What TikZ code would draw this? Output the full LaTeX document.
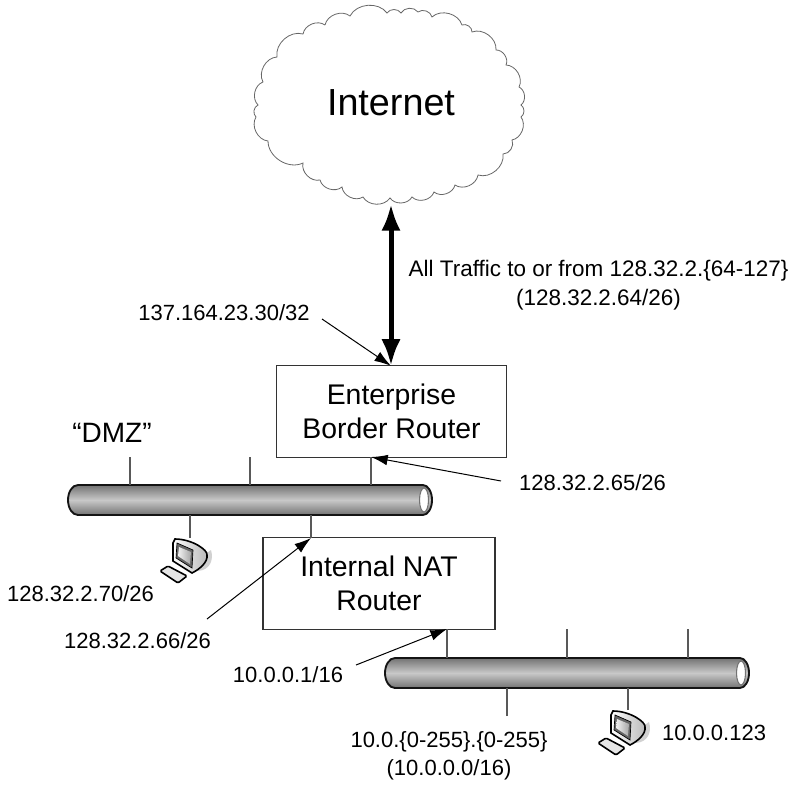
\documentclass[tikz,border=0pt]{standalone}
\usepackage{fontspec}
\setmainfont{Liberation Sans}
\usetikzlibrary{positioning, arrows.meta}

\begin{document}
\begin{tikzpicture}[x=0.75pt,y=-0.75pt,
    every node/.style={inner sep=0pt,outer sep=0pt},
    addrlabel/.style={font=\fontsize{16.5}{20.8}\selectfont,align=center},
    routerbox/.style={draw=black!80,line width=0.9pt,align=center,font=\fontsize{21.3}{26}\selectfont},
    cloudline/.style={draw=black!60,line width=0.6pt},
    trunk/.style={line width=3.75pt,{Latex[length=20pt,width=14.5pt]}-{Latex[length=20pt,width=14.5pt]}},
    leader/.style={line width=0.75pt,-{Latex[length=12.5pt,width=8pt]}},
    stub/.style={draw=black!65,line width=0.8pt},
    pipenode/.style={minimum width=273pt,minimum height=22.5pt}]

    % Colors
    \definecolor{pipeedge}{RGB}{20,20,20}
    \definecolor{pipedark}{RGB}{115,115,115}
    \definecolor{pipelight}{RGB}{200,200,200}

    \useasboundingbox (0,0) rectangle (791,784);

    % ======================
    % Internet
    % ======================
    \draw[cloudline] (325,25)
      \foreach \x/\y in {350/16,387/13,401/13,418/12,432/17,462/25,472/32,496/50,506/65,519/87,521/105,521/117,512/140,503/154,478/175,455/185,434/192,412/197,390/198,363/197,342/187,320/180,303/163,268/141,256/117,258/105,263/82,277/57,303/34,325/25} { to[bend left=58] (\x,\y) };
    \node[font=\fontsize{28.3}{32}\selectfont,minimum height=151.5pt] (internet) at (391,103) {Internet};

    % ======================
    % Routers
    % ======================
    \node[routerbox,minimum width=173pt,minimum height=68.5pt] (border) at (391.5,411.5) {Enterprise\\Border Router};
    \node[routerbox,minimum width=174pt,minimum height=68.5pt] (nat) at (379,583.5) {Internal NAT\\Router};

    \draw[trunk] (internet.south) -- (internet.south |- border.north);

    % ======================
    % Pipes
    % ======================
    \foreach \name/\cx/\cy in {dmz/250/500,lan/567/673} {
      \begin{scope}[shift={(\cx,\cy)}]
        \node[pipenode] (\name) at (0,0) {};
        \path[top color=pipedark,bottom color=pipedark,middle color=pipelight]
          (-172,-15) -- (173,-15) arc[start angle=-90,end angle=90,x radius=9,y radius=15] -- (-172,15) arc[start angle=90,end angle=270,x radius=10,y radius=15] -- cycle;
        \draw[pipeedge,line width=1.4pt]
          (-172,-15) -- (173,-15) arc[start angle=-90,end angle=90,x radius=9,y radius=15] -- (-172,15) arc[start angle=90,end angle=270,x radius=10,y radius=15] -- cycle;
        \draw[fill=white,draw=black!55,line width=0.8pt] (174,0) ellipse [x radius=4.5,y radius=12];
      \end{scope}
    }

    % Stubs
    \foreach \name/\x/\y in {dmza/130/457,dmzb/250/457,dmzc/371/457} {
      \coordinate (\name) at (\x,\y);
      \draw[stub] (\name) -- (\name |- dmz.north);
    }
    \foreach \name/\x/\y in {dmzd/190/538,dmze/311/538} {
      \coordinate (\name) at (\x,\y);
      \draw[stub] (\name) -- (\name |- dmz.south);
    }
    \foreach \name/\x/\y in {lana/447/629,lanb/567/629,lanc/688/629} {
      \coordinate (\name) at (\x,\y);
      \draw[stub] (\name) -- (\name |- lan.north);
    }
    \foreach \name/\x/\y in {land/507/716,lane/628/710} {
      \coordinate (\name) at (\x,\y);
      \draw[stub] (\name) -- (\name |- lan.south);
    }

    % ======================
    % Computers
    % ======================
    \foreach \px/\py in {190/538,628/710} {
      \begin{scope}[shift={(\px,\py)}]
        % Monitor
        \fill[black!18] (8,33) .. controls (20,32) and (24,22) .. (21,12) -- (10,20) -- cycle;
        \draw[line width=1.2pt,left color=white,right color=black!28]
          (-15,1) .. controls (2,1) and (18,12) .. (17,17) .. controls (18,24) and (10,31) .. (2,35)
          -- (-17,23) -- (-17,5) -- cycle;
        \draw[fill=black!60,line width=0.5pt] (-13,5) -- (3,12) -- (2,30) -- (-14,20) -- cycle;
        \path[left color=black!5,right color=black!35] (-11,9) -- (1,14) -- (0,26) -- (-12,18) -- cycle;
        % Keyboard
        \draw[fill=black!10,line width=1.2pt,rounded corners=1pt] (-30,33) -- (-22,28) -- (-3,38) -- (-12,45) -- cycle;
      \end{scope}
    }

    % ======================
    % Labels
    % ======================
    \node[font=\fontsize{16.85}{22}\selectfont,align=center] (trafficlabel) at (598.5,285.5) {All Traffic to or from 128.32.2.\{64-127\}\\(128.32.2.64/26)};
    \node[addrlabel] (borderaddr) at (224,313) {137.164.23.30/32};
    \node[font=\fontsize{21}{24}\selectfont] (dmzlabel) at (112,433) {“DMZ”};
    \node[addrlabel] (dmzaddr) at (592.5,483) {128.32.2.65/26};
    \node[addrlabel] (pcaddr) at (80.5,594) {128.32.2.70/26};
    \node[addrlabel] (nataddr) at (137.5,641) {128.32.2.66/26};
    \node[addrlabel] (lanaddr) at (288,675) {10.0.0.1/16};
    \node[addrlabel] (lanrange) at (449,755.5) {10.0.\{0-255\}.\{0-255\}\\(10.0.0.0/16)};
    \node[addrlabel] (hostaddr) at (714,733) {10.0.0.123};

    % Leaders
    \coordinate (borderfrom) at (322,319);
    \coordinate (dmzfrom) at (501,481);
    \coordinate (natfrom) at (207,619);
    \coordinate (lanfrom) at (356,665);
    \draw[leader] (borderfrom) -- (internet.south |- border.north);
    \draw[leader] (dmzfrom) -- (dmzc);
    \draw[leader] (natfrom) -- (dmze);
    \draw[leader] (lanfrom) -- (lana);

  \end{tikzpicture}
\end{document}
